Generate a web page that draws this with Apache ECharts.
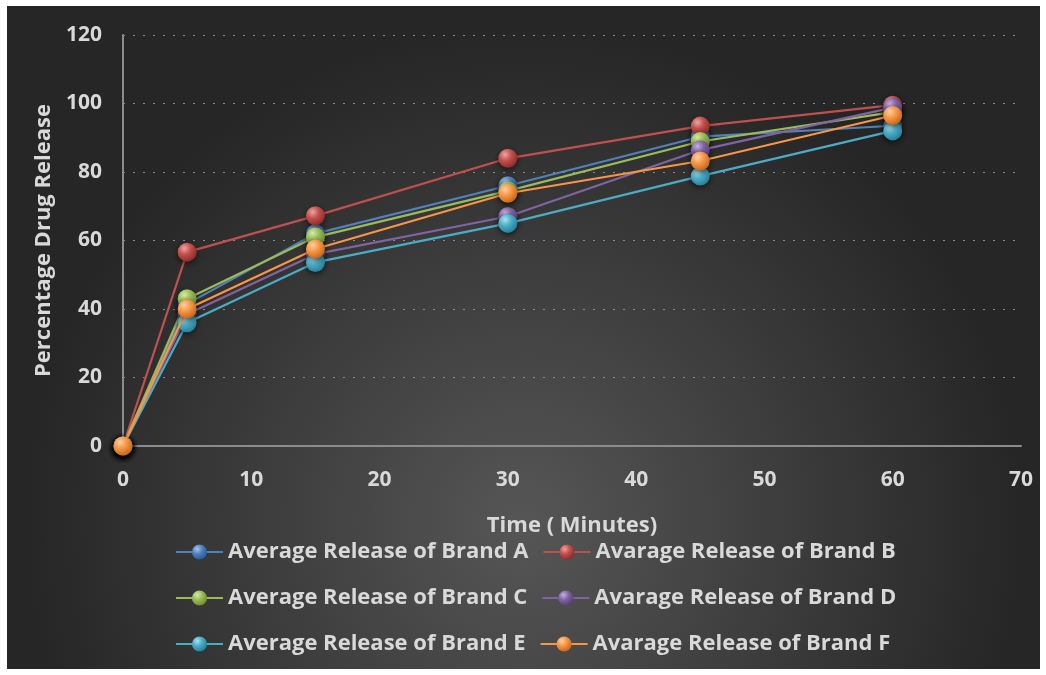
<!DOCTYPE html>
<html><head><meta charset="utf-8">
<script src="https://cdn.jsdelivr.net/npm/echarts@6/dist/echarts.min.js"></script>
<style>html,body{margin:0;padding:0;background:#fff;}#c{width:1046px;height:675px;}</style>
</head><body><div id="c"></div>
<script>
var times = [0, 5, 15, 30, 45, 60];
var seriesNames = ['Average Release of Brand A','Avarage Release of Brand B','Average Release of Brand C','Avarage Release of Brand D','Average Release of Brand E','Avarage Release of Brand F'];
var brandA = [0, 41.5, 62, 76, 90.3, 93.5];
var brandB = [0, 56.6, 67.2, 84, 93.4, 99.5];
var brandC = [0, 43, 61, 74.5, 88.9, 97.5];
var brandD = [0, 38.5, 56, 67, 86.4, 98.8];
var brandE = [0, 36, 53.6, 65, 78.8, 92];
var brandF = [0, 40, 57.5, 73.8, 83.2, 96.5];
var allValues = [brandA, brandB, brandC, brandD, brandE, brandF];
var xTitle = 'Time ( Minutes)';
var yTitle = 'Percentage Drug Release';

var colors = ['#4f81bd','#c0504d','#9bbb59','#8064a2','#4bacc6','#f79646'];
var lights = ['#a9c8f0','#f0a3a1','#d6ec9f','#c5b0e0','#a6e4f4','#ffd0a0'];
var darks  = ['#2a5590','#8a2a28','#6a8a2e','#543d78','#237c94','#c0651a'];

function sphere(i){
  return new echarts.graphic.RadialGradient(0.35, 0.3, 0.75, [
    {offset:0, color: lights[i]},
    {offset:0.45, color: colors[i]},
    {offset:1, color: darks[i]}
  ]);
}

var labelColor = '#d9d9d9';
var fontFam = '"Open Sans", "Liberation Sans", sans-serif';

var series = allValues.map(function(vals, i){
  return {
    name: seriesNames[i],
    type: 'line',
    data: times.map(function(t, k){ return [t, vals[k]]; }),
    symbol: 'circle',
    symbolSize: 19,
    lineStyle: {color: colors[i], width: 2.2},
    itemStyle: {color: sphere(i), shadowBlur: 6, shadowColor: 'rgba(0,0,0,0.6)', shadowOffsetY: 2},
    emphasis: {disabled: true},
    animation: false,
    z: 3 + i
  };
});

function legendRow(top, names){
  return {
    top: top, left: 170,
    data: names,
    itemWidth: 47, itemHeight: 19, itemGap: 14,
    textStyle: {color: labelColor, fontSize: 22, fontWeight: 'bold', fontFamily: fontFam},
    selectedMode: false
  };
}

var chart = echarts.init(document.getElementById('c'));
chart.setOption({
  color: colors,
  animation: false,
  graphic: [{
    type: 'rect', left: 7, top: 6, z: -10, silent: true,
    shape: {width: 1033, height: 663},
    style: {fill: new echarts.graphic.RadialGradient(0.5, 0.78, 0.75, [
      {offset: 0, color: '#565656'},
      {offset: 1, color: '#262626'}
    ])}
  }],
  legend: [
    legendRow(536, [seriesNames[0], seriesNames[1]]),
    legendRow(582, [seriesNames[2], seriesNames[3]]),
    legendRow(628, [seriesNames[4], seriesNames[5]])
  ],
  grid: {left: 123, right: 25, top: 35, bottom: 229, containLabel: false},
  xAxis: {
    type: 'value', min: 0, max: 70, interval: 10,
    name: xTitle, nameLocation: 'middle', nameGap: 69,
    nameTextStyle: {color: labelColor, fontSize: 22, fontWeight: 'bold', fontFamily: fontFam},
    axisLine: {lineStyle: {color: '#8c8c8c', width: 2}},
    axisTick: {show: false},
    axisLabel: {color: labelColor, fontSize: 21, fontWeight: 'bold', fontFamily: fontFam, margin: 24},
    splitLine: {show: false}
  },
  yAxis: {
    type: 'value', min: 0, max: 120, interval: 20,
    name: yTitle, nameLocation: 'middle', nameGap: 63,
    nameTextStyle: {color: labelColor, fontSize: 22, fontWeight: 'bold', fontFamily: fontFam},
    axisLine: {show: true, lineStyle: {color: '#8c8c8c', width: 2}},
    axisTick: {show: false},
    axisLabel: {color: labelColor, fontSize: 21, fontWeight: 'bold', fontFamily: fontFam, margin: 21},
    splitLine: {show: true, lineStyle: {color: '#8a8a8a', type: [2, 8], width: 1}}
  },
  series: series
});
</script></body></html>
